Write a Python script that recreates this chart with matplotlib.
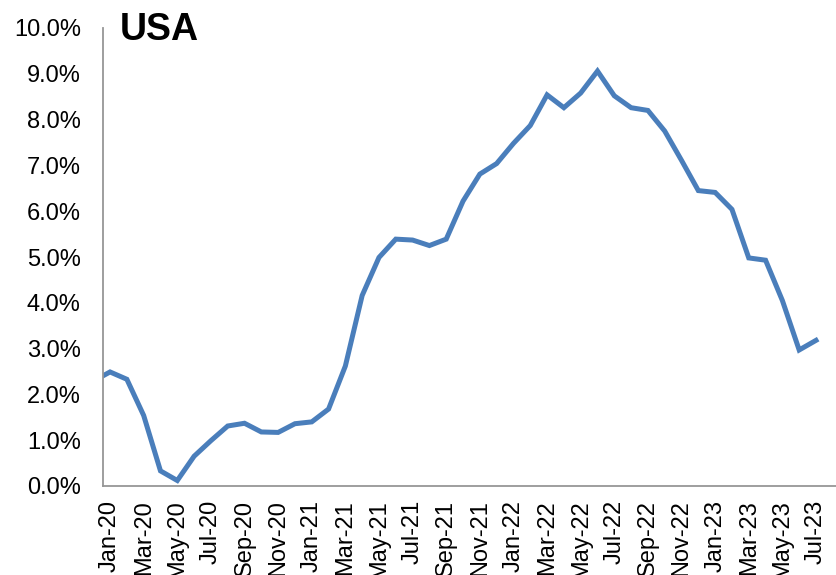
import matplotlib
matplotlib.use("Agg")
import matplotlib.pyplot as plt
from matplotlib.ticker import FuncFormatter

plt.rcParams['font.family'] = ['Liberation Sans', 'DejaVu Sans']

# monthly CPI inflation, Dec-19 .. Jul-23 (%)
months = ['Dec-19',
          'Jan-20', 'Feb-20', 'Mar-20', 'Apr-20', 'May-20', 'Jun-20', 'Jul-20', 'Aug-20',
          'Sep-20', 'Oct-20', 'Nov-20', 'Dec-20',
          'Jan-21', 'Feb-21', 'Mar-21', 'Apr-21', 'May-21', 'Jun-21', 'Jul-21', 'Aug-21',
          'Sep-21', 'Oct-21', 'Nov-21', 'Dec-21',
          'Jan-22', 'Feb-22', 'Mar-22', 'Apr-22', 'May-22', 'Jun-22', 'Jul-22', 'Aug-22',
          'Sep-22', 'Oct-22', 'Nov-22', 'Dec-22',
          'Jan-23', 'Feb-23', 'Mar-23', 'Apr-23', 'May-23', 'Jun-23', 'Jul-23']
cpi = [2.29,
       2.49, 2.33, 1.54, 0.33, 0.12, 0.65, 0.99, 1.31, 1.37, 1.18, 1.17, 1.36,
       1.40, 1.68, 2.62, 4.16, 4.99, 5.39, 5.37, 5.25, 5.39, 6.22, 6.81, 7.04,
       7.48, 7.87, 8.54, 8.26, 8.58, 9.06, 8.52, 8.26, 8.20, 7.75, 7.11, 6.45,
       6.41, 6.04, 4.98, 4.93, 4.05, 2.97, 3.18]

fig = plt.figure(figsize=(8.37, 5.75), dpi=100)
ax = fig.add_axes([103/837, 89/575, 734/837, 458/575])

x = list(range(len(months)))
ax.plot(x, cpi, color='#4a7ebb', lw=3.6, solid_joinstyle='miter')

ax.set_xlim(0.58, 44.25)
ax.set_ylim(0, 10)
ax.set_yticks(range(0, 11))
ax.yaxis.set_major_formatter(FuncFormatter(lambda v, p: f'{v:.1f}%'))
ax.set_xticks(x[1::2])
ax.set_xticklabels(months[1::2], rotation=90)
ax.tick_params(axis='both', length=0, labelsize=17)
ax.tick_params(axis='y', pad=16)
ax.tick_params(axis='x', pad=10)

for s in ['top', 'right']:
    ax.spines[s].set_visible(False)
for s in ['left', 'bottom']:
    ax.spines[s].set_color('#969696')
    ax.spines[s].set_linewidth(1.3)

fig.text(120/837, (575-40)/575, 'USA', fontsize=27, fontweight='bold', va='baseline')

fig.savefig('out.png', dpi=100)
